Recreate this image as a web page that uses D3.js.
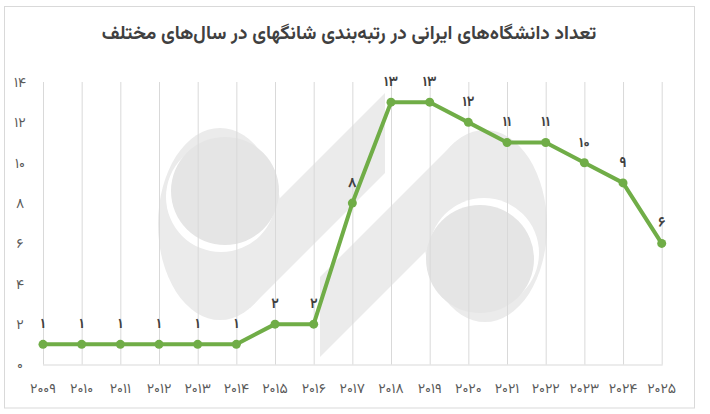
<!DOCTYPE html>
<html><head><meta charset="utf-8">
<script src="https://cdn.jsdelivr.net/npm/d3@7/dist/d3.min.js"></script>
<style>
html,body{margin:0;padding:0;background:#fff;}
svg{display:block;}
text{font-family:Vazirmatn,"Noto Sans Arabic","DejaVu Sans",sans-serif;}
</style></head>
<body>
<svg id="chart" width="710" height="414"></svg>
<script>
const title = "تعداد دانشگاه‌های ایرانی در رتبه‌بندی شانگهای در سال‌های مختلف";
const years = [2009,2010,2011,2012,2013,2014,2015,2016,2017,2018,2019,2020,2021,2022,2023,2024,2025];
const yearLabels = ["۲۰۰۹","۲۰۱۰","۲۰۱۱","۲۰۱۲","۲۰۱۳","۲۰۱۴","۲۰۱۵","۲۰۱۶","۲۰۱۷","۲۰۱۸","۲۰۱۹","۲۰۲۰","۲۰۲۱","۲۰۲۲","۲۰۲۳","۲۰۲۴","۲۰۲۵"];
const values = [1,1,1,1,1,1,2,2,8,13,13,12,11,11,10,9,6];
const yTicks = [0,2,4,6,8,10,12,14];
const yTickLabels = ["۰","۲","۴","۶","۸","۱۰","۱۲","۱۴"];

const faDigits = "۰۱۲۳۴۵۶۷۸۹";
const toFa = n => String(n).replace(/\d/g, d => faDigits[+d]);

const svg = d3.select("#chart");

// frame
svg.append("rect").attr("x",4.5).attr("y",6.5).attr("width",690).attr("height",401.5)
  .attr("fill","#fff").attr("stroke","#d9d9d9").attr("stroke-width",1);

// title
svg.append("text").attr("x",349).attr("y",39).attr("text-anchor","middle")
  .attr("font-size",19).attr("font-weight","bold").attr("fill","#404040")
  .attr("direction","rtl").text(title);

const x = d3.scalePoint().domain(years).range([43,661.7]);
const y = d3.scaleLinear().domain([0,14]).range([364.5,82]);

// watermark
const wm = svg.append("g").attr("class","watermark");
function logoHalf(g){
  g.append("ellipse").attr("cx",220).attr("cy",224).attr("rx",62).attr("ry",96).attr("fill","#ebebeb");
  g.append("polygon").attr("points","250,228 385,93 385,173 250,308").attr("fill","#ebebeb");
  g.append("circle").attr("cx",221).attr("cy",197).attr("r",55).attr("fill","#ffffff");
  g.append("circle").attr("cx",225).attr("cy",191).attr("r",54).attr("fill","#e5e5e5");
}
logoHalf(wm.append("g"));
logoHalf(wm.append("g").attr("transform","rotate(180,352.5,225)"));

// vertical gridlines
svg.append("g").selectAll("line").data(years).join("line")
  .attr("x1",d=>x(d)+0.5).attr("x2",d=>x(d)+0.5)
  .attr("y1",y(14)).attr("y2",y(0))
  .attr("stroke","#d9d9d9").attr("stroke-width",1);

// baseline
svg.append("line").attr("x1",x(2009)).attr("x2",x(2025)+1)
  .attr("y1",y(0)+0.5).attr("y2",y(0)+0.5).attr("stroke","#d9d9d9");

// y labels
svg.append("g").selectAll("text").data(yTicks).join("text")
  .attr("x",20).attr("y",d=>y(d)).attr("dy","0.35em").attr("text-anchor","middle")
  .attr("font-size",14).attr("fill","#595959")
  .text((d,i)=>yTickLabels[i]);

// x labels
svg.append("g").selectAll("text").data(years).join("text")
  .attr("x",d=>x(d)).attr("y",388).attr("dy","0.35em").attr("text-anchor","middle")
  .attr("font-size",14).attr("fill","#595959")
  .text((d,i)=>yearLabels[i]);

// line
const pts = years.map((yr,i)=>({yr, v:values[i]}));
svg.append("path").datum(pts)
  .attr("fill","none").attr("stroke","#70ad47").attr("stroke-width",4)
  .attr("stroke-linejoin","round").attr("stroke-linecap","round")
  .attr("d", d3.line().x(d=>x(d.yr)).y(d=>y(d.v)));

svg.append("g").selectAll("circle").data(pts).join("circle")
  .attr("cx",d=>x(d.yr)).attr("cy",d=>y(d.v)).attr("r",4.5).attr("fill","#70ad47");

// data labels
svg.append("g").selectAll("text").data(pts).join("text")
  .attr("x",d=>x(d.yr)).attr("y",d=>y(d.v)-21).attr("dy","0.35em").attr("text-anchor","middle")
  .attr("font-size",14).attr("font-weight","bold").attr("fill","#404040")
  .text(d=>toFa(d.v));
</script>
</body></html>
